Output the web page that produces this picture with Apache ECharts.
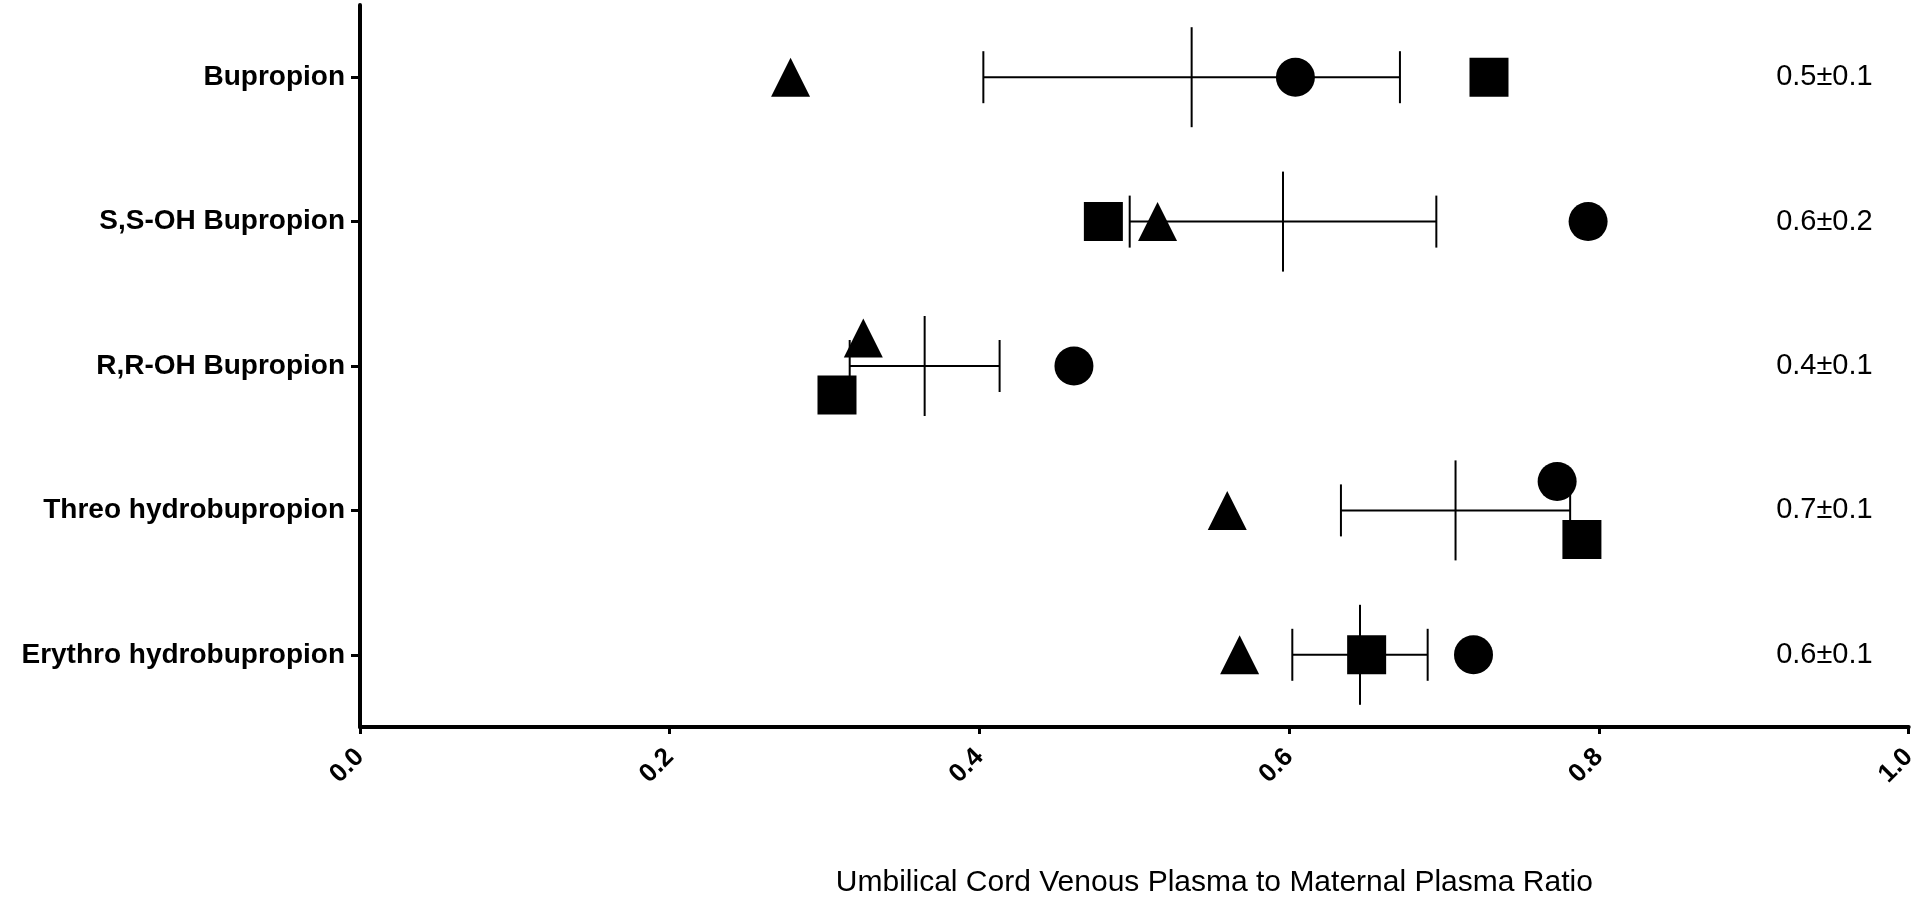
<!DOCTYPE html>
<html><head><meta charset="utf-8">
<script src="https://cdn.jsdelivr.net/npm/echarts@6/dist/echarts.min.js"></script>
<style>html,body{margin:0;padding:0;background:#fff}#c{width:1920px;height:903px}</style>
</head><body><div id="c"></div>
<script>
const categories = ['Bupropion', 'S,S-OH Bupropion', 'R,R-OH Bupropion', 'Threo hydrobupropion', 'Erythro hydrobupropion'];
const meanValues = [0.537, 0.596, 0.3646, 0.7074, 0.6457];
const sdValues = [0.1345, 0.0990, 0.0484, 0.0740, 0.0437];
const circleValues = [0.604, 0.793, 0.461, 0.773, 0.719];
const squareValues = [0.729, 0.480, 0.308, 0.789, 0.650];
const triangleValues = [0.278, 0.515, 0.325, 0.560, 0.568];
const ratioLabels = ['0.5±0.1', '0.6±0.2', '0.4±0.1', '0.7±0.1', '0.6±0.1'];
const xTickLabels = ['0.0', '0.2', '0.4', '0.6', '0.8', '1.0'];
const xTitle = 'Umbilical Cord Venous Plasma to Maternal Plasma Ratio';

// style: vertical nudges of overlapping markers (pixels)
const nudge = {
  circle: [0, 0, 0, -29, 0],
  square: [0, 0, 29, 29, 0],
  triangle: [0, 0, -28, 0, 0]
};

const FONT = "'Liberation Sans', Arial, sans-serif";
const chart = echarts.init(document.getElementById('c'));

function scatter(name, values, symbol, offs) {
  return {
    type: 'scatter', name, symbol, symbolSize: 39, z: 5,
    itemStyle: { color: '#000', opacity: 1 },
    data: values.map((v, i) => ({ value: [v, i], symbolOffset: [0, offs[i]] }))
  };
}

chart.setOption({
  animation: false,
  backgroundColor: '#fff',
  grid: { left: 360, right: 8, top: 5, bottom: 172, containLabel: false },
  xAxis: {
    type: 'value', min: 0, max: 1, interval: 0.2,
    name: xTitle, nameLocation: 'middle', nameGap: 141,
    nameTextStyle: { fontFamily: FONT, fontSize: 30, color: '#000', padding: [0, 0, 0, 160] },
    axisLine: { show: true, lineStyle: { color: '#000', width: 4 } },
    axisTick: { show: true, length: 7, lineStyle: { color: '#000', width: 3 } },
    splitLine: { show: false },
    axisLabel: {
      rotate: 45, margin: 26, fontFamily: FONT, fontWeight: 'bold', fontSize: 26, color: '#000',
      formatter: v => xTickLabels[Math.round(v / 0.2)]
    }
  },
  yAxis: [{
    type: 'category', data: categories, inverse: true,
    axisLine: { show: true, lineStyle: { color: '#000', width: 4 } },
    axisTick: { show: true, alignWithLabel: true, length: 9, lineStyle: { color: '#000', width: 3 } },
    splitLine: { show: false },
    axisLabel: { margin: 15, fontFamily: FONT, fontWeight: 'bold', fontSize: 28, color: '#000' }
  }, {
    type: 'category', data: ratioLabels, inverse: true, position: 'right',
    axisLine: { show: false }, axisTick: { show: false }, splitLine: { show: false },
    axisLabel: { inside: true, margin: 36, fontFamily: FONT, fontSize: 29, color: '#000' }
  }],
  series: [
    {
      type: 'custom', z: 3,
      data: meanValues.map((m, i) => [m, i, sdValues[i]]),
      encode: { x: 0, y: 1 },
      renderItem(params, api) {
        const m = api.value(0), i = api.value(1), sd = api.value(2);
        const c = api.coord([m, i]);
        const lo = api.coord([m - sd, i]);
        const hi = api.coord([m + sd, i]);
        const st = { stroke: '#000', lineWidth: 2 };
        return {
          type: 'group', children: [
            { type: 'line', shape: { x1: lo[0], y1: c[1], x2: hi[0], y2: c[1] }, style: st },
            { type: 'line', shape: { x1: lo[0], y1: c[1] - 26, x2: lo[0], y2: c[1] + 26 }, style: st },
            { type: 'line', shape: { x1: hi[0], y1: c[1] - 26, x2: hi[0], y2: c[1] + 26 }, style: st },
            { type: 'line', shape: { x1: c[0], y1: c[1] - 50, x2: c[0], y2: c[1] + 50 }, style: st }
          ]
        };
      }
    },
    scatter('circle', circleValues, 'circle', nudge.circle),
    scatter('square', squareValues, 'rect', nudge.square),
    scatter('triangle', triangleValues, 'triangle', nudge.triangle)
  ]
});
</script>
</body></html>
